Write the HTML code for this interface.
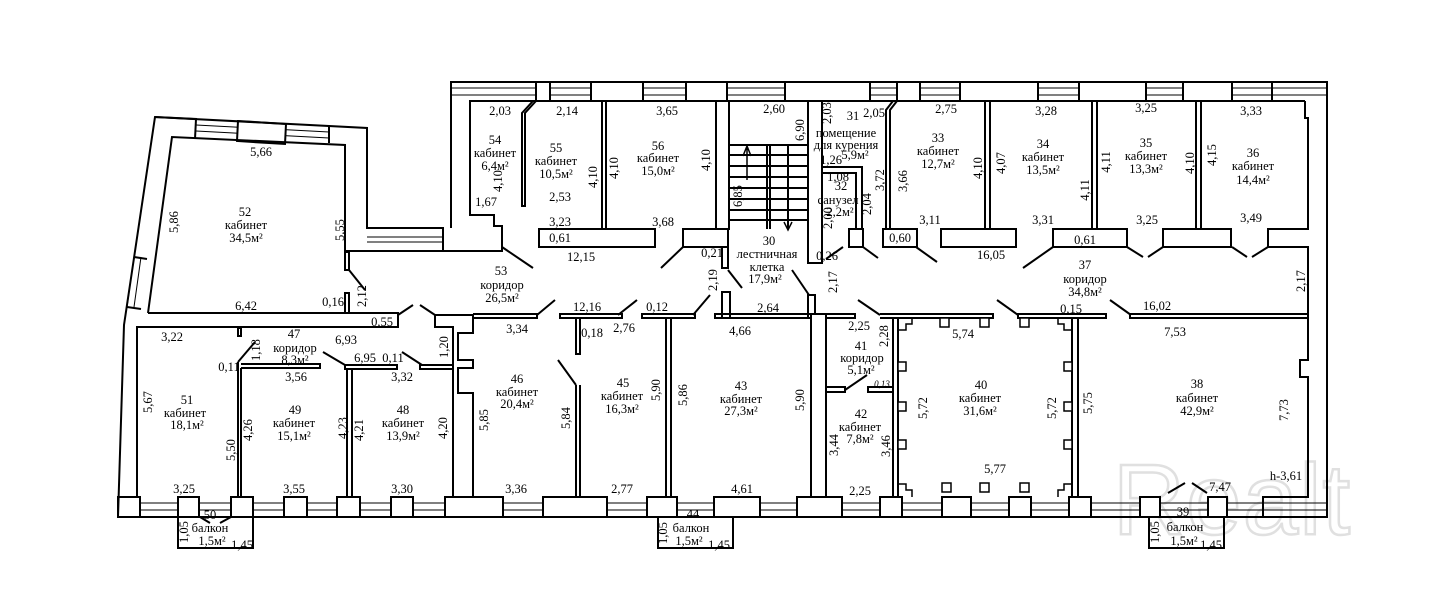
<!DOCTYPE html>
<html><head><meta charset="utf-8"><style>
html,body{margin:0;padding:0;background:#fff;}
svg{display:block}
text{font-family:"Liberation Serif",serif;font-size:12.5px;fill:#000;text-anchor:middle;dominant-baseline:central}
</style></head><body>
<svg width="1447" height="607" viewBox="0 0 1447 607" xmlns="http://www.w3.org/2000/svg">
<rect width="1447" height="607" fill="#fff"/>
<!-- watermark -->
<text x="1232" y="500" style="font-family:'Liberation Sans',sans-serif;font-size:100px;fill:none;stroke:#e0e0e0;stroke-width:2.5;letter-spacing:1px">Realt</text>

<g fill="none" stroke="#000" stroke-width="1">
<line x1="451" y1="88" x2="1327" y2="88"/><line x1="451" y1="95" x2="1327" y2="95"/>
<line x1="118" y1="503" x2="1327" y2="503"/><line x1="118" y1="510" x2="1327" y2="510"/>
<line x1="196" y1="125" x2="329" y2="132"/><line x1="196" y1="131" x2="329" y2="138"/>
<line x1="367" y1="237" x2="443" y2="237"/><line x1="367" y1="242" x2="443" y2="242"/>
<line x1="134" y1="257" x2="127" y2="307"/><line x1="141" y1="257" x2="134" y2="307"/>
</g>

<g fill="#fff" stroke="#000" stroke-width="2">
<rect x="536" y="82" width="14" height="19"/>
<rect x="591" y="82" width="52" height="19"/>
<rect x="686" y="82" width="41" height="19"/>
<rect x="785" y="82" width="85" height="19"/>
<rect x="897" y="82" width="23" height="19"/>
<rect x="960" y="82" width="78" height="19"/>
<rect x="1079" y="82" width="67" height="19"/>
<rect x="1183" y="82" width="49" height="19"/>
<rect x="118" y="497" width="22" height="20"/>
<rect x="178" y="497" width="21" height="20"/>
<rect x="231" y="497" width="22" height="20"/>
<rect x="284" y="497" width="23" height="20"/>
<rect x="337" y="497" width="23" height="20"/>
<rect x="391" y="497" width="22" height="20"/>
<rect x="445" y="497" width="58" height="20"/>
<rect x="543" y="497" width="64" height="20"/>
<rect x="647" y="497" width="30" height="20"/>
<rect x="714" y="497" width="46" height="20"/>
<rect x="797" y="497" width="45" height="20"/>
<rect x="880" y="497" width="22" height="20"/>
<rect x="942" y="497" width="29" height="20"/>
<rect x="1009" y="497" width="22" height="20"/>
<rect x="1069" y="497" width="22" height="20"/>
<rect x="1140" y="497" width="20" height="20"/>
<rect x="1208" y="497" width="19" height="20"/>
<polygon points="238,121 286,124 285,144 237,141"/>
<rect x="539" y="229" width="116" height="18"/>
<rect x="683" y="229" width="45" height="18"/>
<rect x="849" y="229" width="14" height="18"/>
<rect x="883" y="229" width="34" height="18"/>
<rect x="941" y="229" width="75" height="18"/>
<rect x="1053" y="229" width="74" height="18"/>
<rect x="1163" y="229" width="68" height="18"/>
<rect x="722" y="247" width="6" height="21"/>
<rect x="722" y="292" width="8" height="26"/>
<rect x="808" y="295" width="7" height="23"/>
<rect x="811" y="314" width="15" height="183"/>
<rect x="345" y="252" width="4" height="18"/>
<rect x="345" y="293" width="4" height="20"/>
<rect x="238" y="328" width="3" height="8"/>
</g>

<g fill="none" stroke="#000" stroke-width="2">
<path d="M451,228 L451,82 L1327,82 L1327,517 L118,517 L124,325 L155,117 L367,128 L367,228 L443,228 L443,251"/>
<path d="M155,117 L196,119 L195,139"/>
<path d="M329,126 L329,143"/>
<path d="M148,313 L172,137 L345,145 L345,251 L443,251 L502,251 L502,226 L494,226 L494,215 L470,215 L470,101 L1305,101"/>
<path d="M1272,82 L1272,101"/>
<path d="M1305,101 L1305,118 L1308,118 L1308,229 L1268,229 L1268,247 L1308,247 L1308,360 L1300,360 L1300,377 L1308,377 L1308,497 L1263,497 L1263,517"/>
<path d="M134,257 L147,259 M127,307 L141,309"/>
<path d="M148,313 L398,313 L398,327 L137,327 L137,497"/>
<path d="M398,315 L413,305 M420,305 L435,315"/>
<path d="M349,270 L365,290"/>
<path d="M435,315 L435,327 L453,327 L453,497"/>
<path d="M435,315 L473,315 L473,333 L458,333 L458,360 L473,360 L473,368 L458,368 L458,393 L473,393 L473,497"/>
<path d="M238,362 L238,497 M241,368 L241,497"/>
<path d="M241,364 L320,364 L320,368 L241,368"/>
<path d="M238,362 L255,342"/>
<path d="M345,365 L397,365 L397,369 L345,369 Z M347,369 L347,497 M352,369 L352,497"/>
<path d="M323,352 L345,365 M402,352 L422,365"/>
<path d="M420,365 L453,365 L453,369 L420,369 Z"/>
<path d="M178,517 L178,548 L253,548 L253,517"/>
<path d="M200,517 L210,523 M220,523 L231,517"/>
<path d="M658,517 L658,548 L733,548 L733,517"/>
<path d="M1149,517 L1149,548 L1224,548 L1224,517"/>
<path d="M1168,493 L1185,483 M1192,483 L1207,493"/>
<path d="M536,101 L525,113 L525,206 L522,206 L522,113 L533,101"/>
<path d="M602,101 L602,229 M606,101 L606,229"/>
<path d="M716,101 L716,229 M729,101 L729,229 L728,229"/>
<path d="M808,101 L808,263 L822,263 L822,101"/>
<path d="M822,167 L862,167 L862,229 M822,173 L856,173 L856,229"/>
<path d="M893,101 L886,110 L886,229 M897,101 L890,110 L890,229"/>
<path d="M985,101 L985,229 M990,101 L990,229"/>
<path d="M1092,101 L1092,229 M1097,101 L1097,229"/>
<path d="M1196,101 L1196,229 M1201,101 L1201,229"/>
<path d="M502,247 L533,268 M661,268 L683,247 M728,270 L742,288 M792,270 L809,295 M826,259 L843,247 M863,247 L878,258 M916,247 L937,262 M1023,268 L1053,247 M1127,247 L1143,257 M1148,257 L1163,247 M1232,247 L1247,257 M1252,257 L1268,247"/>
<path d="M473,314 L537,314 L537,318 L473,318"/>
<path d="M560,314 L622,314 L622,318 L560,318 Z"/>
<path d="M642,314 L695,314 L695,318 L642,318 Z"/>
<path d="M715,314 L811,314 L811,318 L715,318 Z"/>
<path d="M826,314 L855,314 L855,318 L826,318"/>
<path d="M880,314 L993,314 L993,318 L880,318"/>
<path d="M1018,314 L1106,314 L1106,318 L1018,318 Z"/>
<path d="M1130,314 L1308,314 M1130,314 L1130,318 L1308,318"/>
<path d="M555,300 L537,315 M637,300 L618,315 M710,295 L693,315 M858,300 L880,315 M997,300 L1018,315 M1110,300 L1131,315"/>
<path d="M576,318 L576,354 L580,354 L580,318"/>
<path d="M576,385 L576,497 M580,385 L580,497 M558,360 L576,385"/>
<path d="M666,318 L666,497 M671,318 L671,497"/>
<path d="M826,387 L845,387 L845,392 L826,392 M845,390 L867,375"/>
<path d="M868,387 L893,387 L893,392 L868,392 Z"/>
<path d="M893,318 L893,497 M898,318 L898,497"/>
<path d="M1072,318 L1072,497 M1078,318 L1078,497"/>
<path d="M729,145 L808,145 M729,155 L808,155 M729,166 L808,166 M729,177 L808,177 M729,188 L808,188 M729,199 L808,199 M729,210 L808,210 M729,220 L808,220"/>
<path d="M767,145 L767,229 M770,145 L770,229 M788,145 L788,229"/>
<path d="M747,180 L747,148 M743,156 L747,146 L751,156 M788,210 L788,228 M784,222 L788,230 L792,222" stroke-width="1.5"/>
</g>
<g fill="#fff" stroke="#000" stroke-width="1.5">
<rect x="940" y="318" width="9" height="9"/><rect x="980" y="318" width="9" height="9"/><rect x="1020" y="318" width="9" height="9"/>
<rect x="942" y="483" width="9" height="9"/><rect x="980" y="483" width="9" height="9"/><rect x="1020" y="483" width="9" height="9"/>
<rect x="898" y="362" width="8" height="9"/><rect x="898" y="402" width="8" height="9"/><rect x="898" y="440" width="8" height="9"/>
<rect x="1064" y="362" width="8" height="9"/><rect x="1064" y="402" width="8" height="9"/><rect x="1064" y="440" width="8" height="9"/>
<path d="M898,330 L906,330 L906,324 L912,324 L912,318" fill="none"/>
<path d="M1072,330 L1064,330 L1064,324 L1058,324 L1058,318" fill="none"/>
<path d="M898,484 L906,484 L906,490 L912,490 L912,497" fill="none"/>
<path d="M1072,484 L1064,484 L1064,490 L1058,490 L1058,497" fill="none"/>
</g>

<text x="500" y="111">2,03</text><text x="495" y="140">54</text><text x="495" y="153">кабинет</text><text x="495" y="166">6,4м²</text>
<text transform="translate(498,181) rotate(-90)">4,10</text><text x="486" y="202">1,67</text>
<text x="567" y="111">2,14</text><text x="556" y="148">55</text><text x="556" y="161">кабинет</text><text x="556" y="174">10,5м²</text>
<text x="560" y="197">2,53</text><text x="560" y="222">3,23</text><text x="560" y="238">0,61</text>
<text transform="translate(593,177) rotate(-90)">4,10</text><text transform="translate(614,168) rotate(-90)">4,10</text>
<text x="667" y="111">3,65</text><text x="658" y="146">56</text><text x="658" y="158">кабинет</text><text x="658" y="171">15,0м²</text>
<text x="663" y="222">3,68</text><text transform="translate(706,160) rotate(-90)">4,10</text>
<text x="774" y="109">2,60</text><text transform="translate(800,130) rotate(-90)">6,90</text><text transform="translate(738,196) rotate(-90)">6,85</text>
<text x="769" y="241">30</text><text x="767" y="254">лестничная</text><text x="767" y="267">клетка</text><text x="765" y="279">17,9м²</text>
<text x="712" y="253">0,21</text><text transform="translate(713,280) rotate(-90)">2,19</text><text x="827" y="256">0,26</text><text transform="translate(833,282) rotate(-90)">2,17</text>
<text transform="translate(827,113) rotate(-90)">2,03</text><text x="853" y="116">31</text><text x="874" y="113">2,05</text>
<text x="846" y="133">помещение</text><text x="846" y="145">для курения</text><text x="831" y="160">1,26</text><text x="855" y="155">5,9м²</text>
<text x="838" y="177">1,08</text><text x="841" y="186">32</text><text x="838" y="200">санузел</text><text x="840" y="212">2,2м²</text>
<text transform="translate(828,218) rotate(-90)">2,00</text><text transform="translate(867,204) rotate(-90)">2,04</text><text transform="translate(880,180) rotate(-90)">3,72</text>
<text x="946" y="109">2,75</text><text x="938" y="138">33</text><text x="938" y="151">кабинет</text><text x="938" y="164">12,7м²</text>
<text transform="translate(903,181) rotate(-90)">3,66</text><text x="930" y="220">3,11</text><text x="900" y="238">0,60</text>
<text transform="translate(978,168) rotate(-90)">4,10</text><text transform="translate(1001,163) rotate(-90)">4,07</text>
<text x="1046" y="111">3,28</text><text x="1043" y="144">34</text><text x="1043" y="157">кабинет</text><text x="1043" y="170">13,5м²</text>
<text x="1043" y="220">3,31</text><text transform="translate(1085,190) rotate(-90)">4,11</text><text transform="translate(1106,162) rotate(-90)">4,11</text>
<text x="1146" y="108">3,25</text><text x="1146" y="143">35</text><text x="1146" y="156">кабинет</text><text x="1146" y="169">13,3м²</text>
<text x="1147" y="220">3,25</text><text x="1085" y="240">0,61</text>
<text transform="translate(1190,163) rotate(-90)">4,10</text><text transform="translate(1212,155) rotate(-90)">4,15</text>
<text x="1251" y="111">3,33</text><text x="1253" y="153">36</text><text x="1253" y="166">кабинет</text><text x="1253" y="180">14,4м²</text>
<text x="1251" y="218">3,49</text><text x="991" y="255">16,05</text><text transform="translate(1301,281) rotate(-90)">2,17</text>
<text x="1085" y="265">37</text><text x="1085" y="279">коридор</text><text x="1085" y="292">34,8м²</text>
<text x="1071" y="309">0,15</text><text x="1157" y="306">16,02</text>
<text x="501" y="271">53</text><text x="502" y="285">коридор</text><text x="502" y="298">26,5м²</text>
<text x="581" y="257">12,15</text><text x="587" y="307">12,16</text><text x="657" y="307">0,12</text><text x="768" y="308">2,64</text>
<text x="261" y="152">5,66</text><text transform="translate(174,222) rotate(-90)">5,86</text>
<text x="245" y="212">52</text><text x="246" y="225">кабинет</text><text x="246" y="238">34,5м²</text>
<text transform="translate(340,230) rotate(-90)">5,55</text><text x="246" y="306">6,42</text><text x="333" y="302">0,16</text>
<text transform="translate(362,296) rotate(-90)">2,12</text><text x="382" y="322">0,55</text>
<text x="172" y="337">3,22</text><text x="294" y="334">47</text><text x="295" y="348">коридор</text><text x="295" y="360">8,3м²</text>
<text x="346" y="340">6,93</text><text transform="translate(256,350) rotate(-90)">1,18</text><text x="229" y="367">0,11</text>
<text x="365" y="358">6,95</text><text x="393" y="358">0,11</text><text x="296" y="377">3,56</text><text x="402" y="377">3,32</text>
<text transform="translate(444,347) rotate(-90)">1,20</text>
<text x="187" y="400">51</text><text x="185" y="413">кабинет</text><text x="187" y="425">18,1м²</text>
<text transform="translate(148,402) rotate(-90)">5,67</text><text transform="translate(231,450) rotate(-90)">5,50</text><text transform="translate(248,430) rotate(-90)">4,26</text>
<text x="295" y="410">49</text><text x="294" y="423">кабинет</text><text x="294" y="436">15,1м²</text>
<text transform="translate(343,428) rotate(-90)">4,23</text><text transform="translate(359,430) rotate(-90)">4,21</text>
<text x="403" y="410">48</text><text x="403" y="423">кабинет</text><text x="403" y="436">13,9м²</text><text transform="translate(443,428) rotate(-90)">4,20</text>
<text x="184" y="489">3,25</text><text x="294" y="489">3,55</text><text x="402" y="489">3,30</text>
<text x="210" y="515">50</text><text x="210" y="528">балкон</text><text x="212" y="541">1,5м²</text><text transform="translate(184,532) rotate(-90)">1,05</text><text x="242" y="545">1,45</text>
<text x="517" y="329">3,34</text><text x="592" y="333">0,18</text><text x="624" y="328">2,76</text><text x="740" y="331">4,66</text>
<text x="517" y="379">46</text><text x="517" y="392">кабинет</text><text x="517" y="404">20,4м²</text>
<text transform="translate(484,420) rotate(-90)">5,85</text><text transform="translate(566,418) rotate(-90)">5,84</text>
<text x="623" y="383">45</text><text x="622" y="396">кабинет</text><text x="622" y="409">16,3м²</text>
<text transform="translate(656,390) rotate(-90)">5,90</text><text transform="translate(683,395) rotate(-90)">5,86</text>
<text x="741" y="386">43</text><text x="741" y="399">кабинет</text><text x="741" y="411">27,3м²</text><text transform="translate(800,400) rotate(-90)">5,90</text>
<text x="516" y="489">3,36</text><text x="622" y="489">2,77</text><text x="742" y="489">4,61</text>
<text x="693" y="514">44</text><text x="691" y="528">балкон</text><text x="689" y="541">1,5м²</text><text transform="translate(663,533) rotate(-90)">1,05</text><text x="719" y="545">1,45</text>
<text x="859" y="326">2,25</text><text transform="translate(884,336) rotate(-90)">2,28</text>
<text x="861" y="346">41</text><text x="862" y="358">коридор</text><text x="861" y="370">5,1м²</text>
<text x="882" y="384" style="font-size:9px;font-style:italic">0,13</text>
<text x="861" y="414">42</text><text x="860" y="427">кабинет</text><text x="860" y="439">7,8м²</text>
<text transform="translate(834,445) rotate(-90)">3,44</text><text transform="translate(886,446) rotate(-90)">3,46</text><text x="860" y="491">2,25</text>
<text x="963" y="334">5,74</text><text x="981" y="385">40</text><text x="980" y="398">кабинет</text><text x="980" y="411">31,6м²</text>
<text transform="translate(923,408) rotate(-90)">5,72</text><text transform="translate(1052,408) rotate(-90)">5,72</text>
<text x="995" y="469">5,77</text><text transform="translate(1088,403) rotate(-90)">5,75</text>
<text x="1175" y="332">7,53</text><text x="1197" y="384">38</text><text x="1197" y="398">кабинет</text><text x="1197" y="411">42,9м²</text>
<text transform="translate(1284,410) rotate(-90)">7,73</text><text x="1286" y="476">h-3,61</text><text x="1220" y="487">7,47</text>
<text x="1183" y="512">39</text><text x="1185" y="527">балкон</text><text x="1184" y="541">1,5м²</text><text transform="translate(1155,532) rotate(-90)">1,05</text><text x="1211" y="545">1,45</text>
</svg>
</body></html>
